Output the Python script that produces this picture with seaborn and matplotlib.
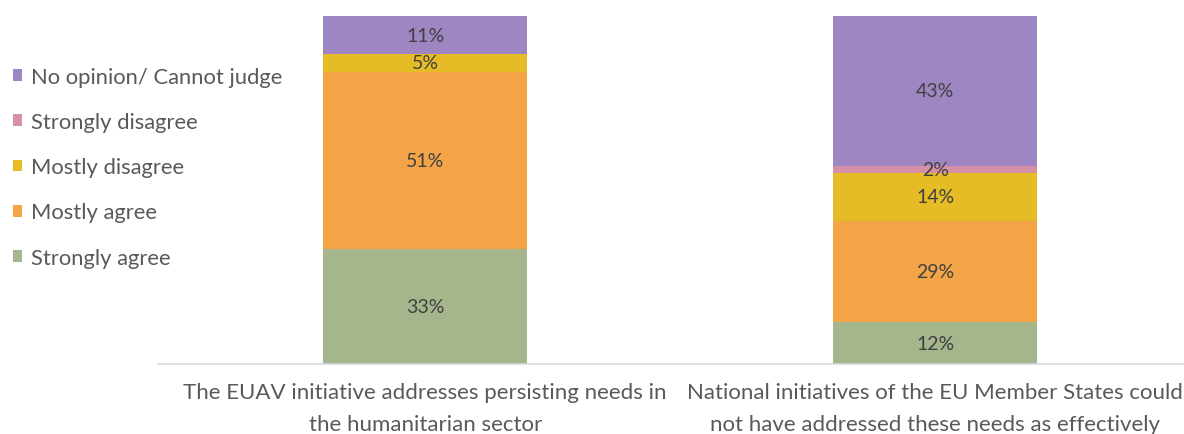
import matplotlib
matplotlib.use("Agg")
import matplotlib.pyplot as plt
import seaborn as sns
import pandas as pd
import numpy as np
from matplotlib.patches import Patch

questions = ["The EUAV initiative addresses persisting needs in\nthe humanitarian sector",
             "National initiatives of the EU Member States could\nnot have addressed these needs as effectively"]
responses = ["Strongly agree", "Mostly agree", "Mostly disagree", "Strongly disagree", "No opinion/ Cannot judge"]
strongly_agree = [33, 12]
mostly_agree = [51, 29]
mostly_disagree = [5, 14]
strongly_disagree = [0, 2]
no_opinion = [11, 43]
colors = ["#a5b58c", "#f2a447", "#e5bc25", "#d690a6", "#9e86c2"]

series = [strongly_agree, mostly_agree, mostly_disagree, strongly_disagree, no_opinion]

sns.set_theme(style="white")
plt.rcParams['font.family'] = ['Lato', 'DejaVu Sans']

fig = plt.figure(figsize=(11.84, 4.35), dpi=100)
ax = fig.add_axes([158/1184, 70/435, 1 - 158/1184, 348/435])

bottoms = np.zeros(len(questions))
for name, vals, col in zip(responses, series, colors):
    df = pd.DataFrame({"q": questions, "v": vals})
    sns.barplot(data=df, x="q", y="v", color=col, width=0.4, bottom=bottoms,
                ax=ax, saturation=1, edgecolor="none")
    for i, v in enumerate(vals):
        if v > 0:
            ax.text(i, bottoms[i] + v / 2, f"{v}%", ha="center", va="center",
                    fontsize=14, color="#404040")
    bottoms = bottoms + np.array(vals)

ax.set_xlim(-0.524, 1.488)
ax.set_ylim(0, 100)
ax.set_xlabel("")
ax.set_ylabel("")
ax.set_yticks([])
for s in ["top", "right", "left"]:
    ax.spines[s].set_visible(False)
ax.spines["bottom"].set_color("#d9d9d9")
ax.spines["bottom"].set_linewidth(1.2)
ax.tick_params(axis="x", length=0, pad=13, labelsize=16, colors="#595959")
for t in ax.get_xticklabels():
    t.set_linespacing(1.75)

handles = [Patch(facecolor=c, edgecolor="none") for c in colors[::-1]]
fig.legend(handles, responses[::-1], loc="upper left", bbox_to_anchor=(4/1184, 1 - 59/435),
           frameon=False, fontsize=15.8, labelcolor="#595959", handlelength=0.4, handleheight=0.45,
           handletextpad=0.45, labelspacing=1.15, borderaxespad=0)

fig.savefig("out.png", dpi=100)
